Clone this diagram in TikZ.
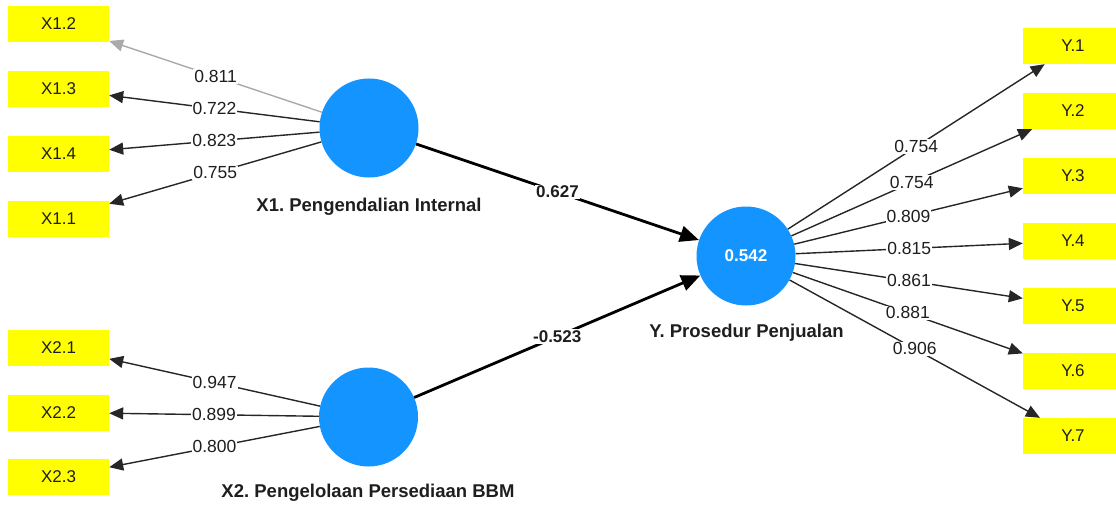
\documentclass[tikz,border=0pt]{standalone}
\usepackage{fontspec}
\setmainfont{Liberation Sans}
\usetikzlibrary{arrows.meta}
\definecolor{lvblue}{RGB}{20,148,255}
\definecolor{mvyellow}{RGB}{255,255,0}
\definecolor{grayarrow}{RGB}{170,170,170}
\definecolor{txt}{RGB}{30,30,30}
\frenchspacing
\begin{document}
\begin{tikzpicture}[x=1pt,y=-1pt,
  indicator/.style={fill=mvyellow, minimum width=101pt, minimum height=36pt, inner sep=0pt, text=txt, font=\fontsize{17}{18}\selectfont},
  latent/.style={circle, fill=lvblue, minimum size=99pt, inner sep=0pt, text=white, font=\fontsize{17}{18}\selectfont\bfseries},
  lvname/.style={text=txt, font=\fontsize{18.5}{20}\selectfont\bfseries},
  loading/.style={-{Triangle[length=14pt,width=12pt]}, line width=1.4pt, draw=black!85},
  lab/.style={fill=white, inner sep=1pt, text=txt, font=\fontsize{17.5}{18}\selectfont},
  pathc/.style={-{Triangle[length=19pt,width=16pt]}, line width=2.8pt, draw=black},
  plab/.style={fill=white, inner sep=1pt, text=txt, font=\fontsize{17}{18}\selectfont\bfseries}]
\useasboundingbox (0,0) rectangle (1116,508);

% latent variables
\node[latent] (X1) at (369,128) {};
\node[latent] (X2) at (368.5,417) {};
\node[latent] (Y) at (746,256) {0.542};
\node[lvname] (nX1) at (369,207) {X1. Pengendalian Internal};
\node[lvname] (nX2) at (368,493) {X2. Pengelolaan Persediaan BBM};
\node[lvname] (nY) at (746.5,333) {Y. Prosedur Penjualan};

% indicators X1
\node[indicator] (x12) at (58.5,24) {X1.2};
\node[indicator] (x13) at (58.5,89) {X1.3};
\node[indicator] (x14) at (58.5,154) {X1.4};
\node[indicator] (x11) at (58.5,218.5) {X1.1};
% indicators X2
\node[indicator] (x21) at (58.5,347.5) {X2.1};
\node[indicator] (x22) at (58.5,412.5) {X2.2};
\node[indicator] (x23) at (58.5,477) {X2.3};
% indicators Y
\node[indicator, minimum width=100pt] (y1) at (1073,46) {Y.1};
\node[indicator, minimum width=100pt] (y2) at (1073,111) {Y.2};
\node[indicator, minimum width=100pt] (y3) at (1073,176) {Y.3};
\node[indicator, minimum width=100pt] (y4) at (1073,241) {Y.4};
\node[indicator, minimum width=100pt] (y5) at (1073,306) {Y.5};
\node[indicator, minimum width=100pt] (y6) at (1073,371) {Y.6};
\node[indicator, minimum width=100pt] (y7) at (1073,436) {Y.7};

% loadings X1
\draw[loading, draw=grayarrow] (X1) -- node[lab] {0.811} (x12);
\draw[loading] (X1) -- node[lab] {0.722} (x13);
\draw[loading] (X1) -- node[lab] {0.823} (x14);
\draw[loading] (X1) -- node[lab] {0.755} (x11);
% loadings X2
\draw[loading] (X2) -- node[lab] {0.947} (x21);
\draw[loading] (X2) -- node[lab] {0.899} (x22);
\draw[loading] (X2) -- node[lab] {0.800} (x23);
% loadings Y
\draw[loading] (Y) -- node[lab] {0.754} (y1);
\draw[loading] (Y) -- node[lab] {0.754} (y2);
\draw[loading] (Y) -- node[lab] {0.809} (y3);
\draw[loading] (Y) -- node[lab] {0.815} (y4);
\draw[loading] (Y) -- node[lab] {0.861} (y5);
\draw[loading] (Y) -- node[lab] {0.881} (y6);
\draw[loading] (Y) -- node[lab] {0.906} (y7);

% structural paths
\draw[pathc] (X1) -- node[plab] {0.627} (Y);
\draw[pathc] (X2) -- node[plab] {-0.523} (Y);
\end{tikzpicture}
\end{document}
